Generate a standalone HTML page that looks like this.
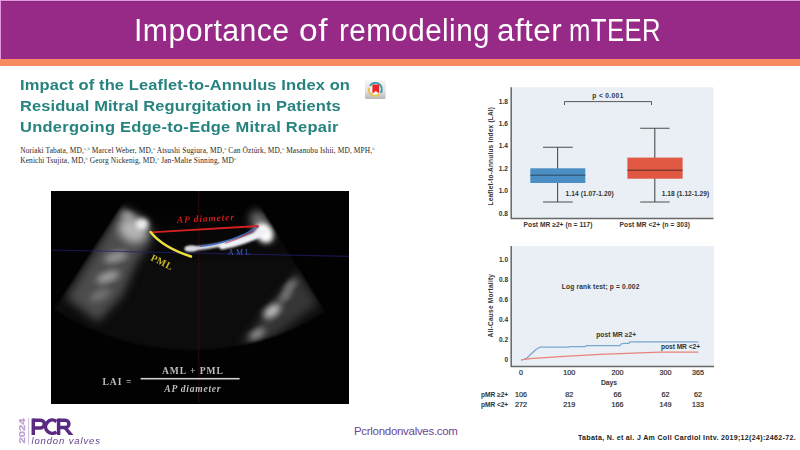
<!DOCTYPE html>
<html><head><meta charset="utf-8">
<style>
html,body{margin:0;padding:0;}
body{width:800px;height:450px;position:relative;overflow:hidden;background:#fff;font-family:"Liberation Sans",sans-serif;}
.abs{position:absolute;white-space:nowrap;}
#hdr{left:0;top:0;width:800px;height:59px;background:#972a87;}
#hdr2{left:0;top:58.8px;width:800px;height:7.7px;background:#f68a61;}
#title{left:0;top:13px;width:800px;height:34px;color:#fff;font-size:30.6px;line-height:34px;letter-spacing:0.46px;}
#title .w{position:absolute;top:0;display:block;transform-origin:0 0;}
.pt{left:20px;color:#27837f;font-weight:bold;font-size:15.4px;line-height:20px;letter-spacing:0.6px;transform:scaleX(1.07);transform-origin:0 0;}
.au{left:20.2px;color:#262626;font-family:"Liberation Serif",serif;font-size:7.4px;line-height:8px;letter-spacing:0.13px;}
.au sup{font-size:4.6px;color:#3a9aa0;vertical-align:2.8px;line-height:0;}
svg text{font-family:"Liberation Sans",sans-serif;}
svg .sf text{font-family:"Liberation Serif",serif;}
</style></head><body>
<div id="hdr" class="abs"></div>
<div id="hdr2" class="abs"></div>
<div class="abs" style="left:0;top:0;width:800px;height:1px;background:#e397df"></div>
<div class="abs" style="left:0;top:1px;width:800px;height:1.4px;background:#842a7c"></div>
<div class="abs" style="left:0;top:0;width:1px;height:59px;background:#e397df"></div>
<div id="title" class="abs"><span class="w" style="left:134.4px;transform:scaleX(0.987)">Importance</span><span class="w" style="left:298.9px;transform:scaleX(1.095)">of</span><span class="w" style="left:339px;transform:scaleX(0.968)">remodeling</span><span class="w" style="left:496.9px;transform:scaleX(1.025)">after</span><span class="w" style="left:569.1px;transform:scaleX(0.840)">mTEER</span></div>

<div class="abs pt" style="top:75.3px;letter-spacing:0.12px"><span id="p1">Impact of the Leaflet-to-Annulus Index on</span></div>
<div class="abs pt" style="top:96px;letter-spacing:0.095px"><span id="p2">Residual Mitral Regurgitation in Patients</span></div>
<div class="abs pt" style="top:117px;letter-spacing:0.265px"><span id="p3">Undergoing Edge-to-Edge Mitral Repair</span></div>

<div class="abs au" style="top:147.2px"><span id="a1">Noriaki Tabata, MD,<sup>a,b</sup> Marcel Weber, MD,<sup>a</sup> Atsushi Sugiura, MD,<sup>a</sup> Can Öztürk, MD,<sup>a</sup> Masanobu Ishii, MD, MPH,<sup>b</sup></span></div>
<div class="abs au" style="top:157.4px"><span id="a2">Kenichi Tsujita, MD,<sup>b</sup> Georg Nickenig, MD,<sup>a</sup> Jan-Malte Sinning, MD<sup>a</sup></span></div>

<!-- ECHO -->
<svg id="echo" class="abs" style="left:51px;top:191px" width="298.3" height="212.5" viewBox="51 191 298.3 212.5">
<defs>
<filter color-interpolation-filters="sRGB" id="b1" x="-30%" y="-30%" width="160%" height="160%"><feGaussianBlur stdDeviation="1"/></filter>
<filter color-interpolation-filters="sRGB" id="b2" x="-30%" y="-30%" width="160%" height="160%"><feGaussianBlur stdDeviation="2.2"/></filter>
<filter color-interpolation-filters="sRGB" id="b3" x="-30%" y="-30%" width="160%" height="160%"><feGaussianBlur stdDeviation="3.2"/></filter>
<filter color-interpolation-filters="sRGB" id="b4" x="-30%" y="-30%" width="160%" height="160%"><feGaussianBlur stdDeviation="4.5"/></filter>
<filter color-interpolation-filters="sRGB" id="b8" x="-30%" y="-30%" width="160%" height="160%"><feGaussianBlur stdDeviation="5"/></filter>
<filter color-interpolation-filters="sRGB" id="bt" x="-10%" y="-30%" width="120%" height="160%"><feGaussianBlur stdDeviation="0.5"/></filter>
<filter color-interpolation-filters="sRGB" id="bs" x="-5%" y="-5%" width="110%" height="110%"><feGaussianBlur stdDeviation="1.2"/></filter>
<linearGradient id="sg" gradientUnits="userSpaceOnUse" x1="0" y1="205" x2="0" y2="265"><stop offset="0" stop-color="#020202"/><stop offset="1" stop-color="#0c0c0c"/></linearGradient>
<clipPath id="sec"><path d="M192 97 L54.3 309.2 A253 253 0 0 0 325.3 312 Z"/></clipPath>
</defs>
<rect x="51" y="191" width="299" height="213" fill="#020202"/>
<path d="M192 97 L54.3 309.2 A253 253 0 0 0 325.3 312 Z" fill="url(#sg)" filter="url(#bs)"/>
<g filter="url(#bs)"><g clip-path="url(#sec)">
<!-- left wall -->
<path d="M122 206 L148 222 L152 240 L136 264 L122 296 L98 322 L66 298 Z" fill="#4c4c4c" filter="url(#b8)"/>
<ellipse cx="133" cy="230" rx="15" ry="12" fill="#b4b4b4" filter="url(#b4)" transform="rotate(30 133 230)"/>
<ellipse cx="142" cy="224" rx="6.5" ry="5.5" fill="#f0f0f0" filter="url(#b2)"/>
<ellipse cx="128" cy="216" rx="7" ry="4" fill="#aaa" filter="url(#b3)" transform="rotate(25 128 216)"/>
<ellipse cx="116" cy="257" rx="12" ry="5" fill="#999" filter="url(#b3)" transform="rotate(-15 116 257)"/>
<ellipse cx="108" cy="277" rx="12" ry="5" fill="#a0a0a0" filter="url(#b3)" transform="rotate(-20 108 277)"/>
<ellipse cx="100" cy="295" rx="11" ry="4.5" fill="#777" filter="url(#b3)" transform="rotate(-25 100 295)"/>
<!-- right lower -->
<path d="M298 272 L318 304 L272 338 L240 346 L266 312 Z" fill="#363636" filter="url(#b8)"/>
<ellipse cx="290" cy="286" rx="9" ry="3.5" fill="#8a8a8a" filter="url(#b3)" transform="rotate(-48 290 286)"/>
<ellipse cx="285" cy="296" rx="8" ry="3.5" fill="#8a8a8a" filter="url(#b3)" transform="rotate(-45 285 296)"/>
<ellipse cx="272" cy="311" rx="10" ry="5.5" fill="#c0c0c0" filter="url(#b3)" transform="rotate(-38 272 311)"/>
<ellipse cx="257" cy="334" rx="9" ry="4" fill="#999" filter="url(#b3)" transform="rotate(-30 257 334)"/>
<!-- right upper -->
<ellipse cx="262" cy="226" rx="9" ry="17" fill="#707070" filter="url(#b4)" transform="rotate(-32 262 226)"/>
<ellipse cx="264" cy="233" rx="8" ry="10.5" fill="#fff" filter="url(#b2)" transform="rotate(-35 264 233)"/>
</g></g>
<!-- blue horizontal -->
<path d="M51 250 L349 256.3" stroke="#20206e" stroke-width="1.2" opacity="0.7" filter="url(#bt)"/>
<!-- red dotted vertical -->
<path d="M198.8 191 V403" stroke="#6a1212" stroke-width="1" stroke-dasharray="1.5 0.8" opacity="0.7"/>
<!-- AML white -->
<path d="M187 249 Q 228 247 262 231" stroke="#e4e4ee" stroke-width="3.6" fill="none" stroke-linecap="round" filter="url(#b1)"/>
<path d="M222 246.5 Q 245 242 264 232" stroke="#f0f0f6" stroke-width="6" fill="none" stroke-linecap="round" filter="url(#b1)"/>
<ellipse cx="191" cy="248.5" rx="6.5" ry="3" fill="#dcdce6" filter="url(#b1)"/>
<path d="M225 243.5 Q 245 237 259 227" stroke="#d04a5a" stroke-width="0.8" fill="none" filter="url(#bt)"/>
<path d="M200 246.5 Q 232 243 258.5 226.5" stroke="#3d6fd0" stroke-width="1.1" fill="none" filter="url(#bt)"/>
<!-- red line -->
<path d="M151 232.4 L258.5 226" stroke="#d4201e" stroke-width="1.8" filter="url(#bt)"/>
<!-- yellow -->
<path d="M150.5 232 Q 163 247.5 191 256.5" stroke="#ece040" stroke-width="2.5" fill="none" stroke-linecap="round" filter="url(#bt)"/>
<g class="sf" filter="url(#bt)">
<text x="177" y="221.6" font-size="9.4" font-style="italic" font-weight="bold" fill="#c41c1c" textLength="57" transform="rotate(-3 205 220)">AP diameter</text>
<text x="150" y="260" font-size="10" font-weight="bold" fill="#c4b62c" textLength="23" transform="rotate(26 150 260)">PML</text>
<text x="228" y="255.5" font-size="8" fill="#4062c8" textLength="22">AML</text>
<g fill="#bdbdbd" font-size="9.6" font-weight="bold" filter="url(#bt)">
<text x="102.4" y="385" textLength="29">LAI =</text>
<text x="162" y="373.7" textLength="60.8">AML + PML</text>
<text x="164.3" y="391.6" textLength="56.2" font-style="italic">AP diameter</text>
</g>
</g>
<rect x="140.6" y="377.9" width="99" height="1.6" fill="#cfcfcf" filter="url(#bt)"/>
</svg>

<!-- CHARTS -->
<svg id="charts" class="abs" style="left:470px;top:80px" width="330" height="340" viewBox="470 80 330 340">
<g font-size="6.6" fill="#333" font-weight="bold">
<!-- box plot -->
<rect x="510.6" y="87.3" width="202.9" height="131.4" fill="#e9eff4"/>
<path d="M511.2 87.3V218.4H713.5" fill="none" stroke="#686868" stroke-width="1.5"/>
<g text-anchor="end">
<text x="507.9" y="103.6">1.8</text>
<text x="507.9" y="126">1.6</text>
<text x="507.9" y="148.4">1.4</text>
<text x="507.9" y="170.8">1.2</text>
<text x="507.9" y="193.2">1.0</text>
<text x="507.9" y="215.6">0.8</text>
</g>
<text transform="translate(493.4,205.5) rotate(-90)" textLength="98.5" font-size="6.5" id="yl1">Leaflet-to-Annulus Index (LAI)</text>
<!-- bracket -->
<path d="M564.5 105V101.6H651.5V105" fill="none" stroke="#4e4e4e" stroke-width="0.95"/>
<text x="592.3" y="97.7" textLength="31" id="pv">p &lt; 0.001</text>
<!-- blue -->
<path d="M557.6 147.2V202M543 147.2H572.8M543 202H572.8" stroke="#4e4e4e" stroke-width="1.1" fill="none"/>
<rect x="530.3" y="168.3" width="55" height="14.7" fill="#4a8ec4"/>
<path d="M530.3 175.2H585.3" stroke="#2a3f55" stroke-width="0.9"/>
<!-- red -->
<path d="M654.8 128.2V202M640.2 128.2H669.6M640.2 202H669.6" stroke="#4e4e4e" stroke-width="1.1" fill="none"/>
<rect x="627.4" y="157.6" width="55.2" height="21.1" fill="#e15842"/>
<path d="M627.4 170.2H682.6" stroke="#4a2a25" stroke-width="0.9"/>
<text x="565.6" y="196.2" textLength="48" id="t114">1.14 (1.07-1.20)</text>
<text x="661.8" y="196.2" textLength="47.4" id="t118">1.18 (1.12-1.29)</text>
<text x="523.6" y="227.3" textLength="68.8" id="xl1">Post MR ≥2+ (n = 117)</text>
<text x="619.5" y="227.3" textLength="70.5" id="xl2">Post MR &lt;2+ (n = 303)</text>

<!-- KM -->
<rect x="510.6" y="246" width="203.4" height="121" fill="#e9eff4"/>
<path d="M511.2 246V366.5H714" fill="none" stroke="#686868" stroke-width="1.5"/>
<g text-anchor="end">
<text x="508.1" y="262.3">1.0</text>
<text x="508.1" y="282.3">0.8</text>
<text x="508.1" y="302.3">0.6</text>
<text x="508.1" y="322.3">0.4</text>
<text x="508.1" y="342.3">0.2</text>
<text x="508.1" y="362.3">0</text>
</g>
<text transform="translate(493.4,337.5) rotate(-90)" textLength="63.5" font-size="6.5" id="yl2">All-Cause Mortality</text>
<text x="561.8" y="289.4" textLength="77.5" id="lr">Log rank test; p = 0.002</text>
<path d="M521 360 L524 359.3 L527 358 L531 354 L536 349.5 L540 347 L569 347 L570 346.6 L585 346.6 L586 345.7 L620 345.7 L621 344 L624 343.3 L629 343.3 L630 341.8 L698.4 341.8" fill="none" stroke="#7aa6cf" stroke-width="1.25"/>
<path d="M521 360 L530 358.7 L560 356.6 L600 354.4 L640 352.8 L660 352.2 L698.4 352.2" fill="none" stroke="#e8827b" stroke-width="1.2"/>
<text x="596.2" y="337.4" textLength="40" id="pm1">post MR ≥2+</text>
<text x="661" y="348.9" textLength="39" id="pm2">post MR &lt;2+</text>
<g text-anchor="middle" font-size="7.2" font-weight="normal" stroke="#2b2b2b" stroke-width="0.22">
<text x="521" y="374.9">0</text>
<text x="569.2" y="374.9">100</text>
<text x="617.5" y="374.9">200</text>
<text x="665.6" y="374.9">300</text>
<text x="698" y="374.9">365</text>
<text x="609" y="384.9" font-size="6.8" font-weight="bold" stroke="none">Days</text>
<text x="521" y="396.8">106</text>
<text x="569.2" y="396.8">82</text>
<text x="617.5" y="396.8">66</text>
<text x="665.6" y="396.8">62</text>
<text x="698" y="396.8">62</text>
<text x="521" y="407.4">272</text>
<text x="569.2" y="407.4">219</text>
<text x="617.5" y="407.4">166</text>
<text x="665.6" y="407.4">149</text>
<text x="698" y="407.4">133</text>
</g>
<text x="481" y="396.7" textLength="27.2" id="r1">pMR ≥2+</text>
<text x="481" y="407.3" textLength="27.2" id="r2">pMR &lt;2+</text>
</g>
</svg>


<!-- crossmark icon -->
<svg class="abs" style="left:360px;top:75px" width="32" height="30" viewBox="360 75 32 30">
<defs><linearGradient id="ig" x1="0" y1="0" x2="0" y2="1"><stop offset="0" stop-color="#f6f6f6"/><stop offset="0.6" stop-color="#dedede"/><stop offset="1" stop-color="#b8b8b8"/></linearGradient>
<filter color-interpolation-filters="sRGB" id="ib" x="-20%" y="-20%" width="140%" height="140%"><feGaussianBlur stdDeviation="0.6"/></filter></defs>
<g filter="url(#ib)">
<rect x="365" y="80.3" width="20.6" height="18.7" rx="1.5" fill="url(#ig)"/>
<circle cx="375.4" cy="89.3" r="6.4" fill="#f6f2ea"/>
<path d="M369.86 86.1 A6.4 6.4 0 1 1 380.64 92.97" fill="none" stroke="#38a0aa" stroke-width="1.9"/>
<path d="M379.5 94.2 A6.4 6.4 0 0 1 369.2 87.64" fill="none" stroke="#e6c24a" stroke-width="1.9"/>
<path d="M372.4 84.6 H379.2 V93.6 L375.8 91 L372.4 93.6 Z" fill="#e8262a"/>
</g>
</svg>

<!-- PCR logo -->
<svg class="abs" style="left:14px;top:412px" width="100" height="38" viewBox="14 412 100 38">
<defs><filter color-interpolation-filters="sRGB" id="lb" x="-5%" y="-10%" width="110%" height="120%"><feGaussianBlur stdDeviation="0.35"/></filter></defs>
<g filter="url(#lb)">
<text transform="translate(25.2,443.6) rotate(-90)" font-size="8.4" font-weight="bold" fill="#bda2d0" stroke="#bda2d0" stroke-width="0.25" textLength="25.2" lengthAdjust="spacingAndGlyphs" id="yr">2024</text>
<rect x="28.2" y="417.8" width="0.9" height="27" fill="#cdb4dd"/>
<g fill="none" stroke="#5a2a82" stroke-width="3.5">
<path d="M33.3 435 V418.5"/>
<path d="M33.3 420.2 H40.5 A3.9 3.9 0 0 1 40.5 428 H33.3"/>
<path d="M56.4 421.6 A6.6 6.6 0 1 0 56.4 431.8"/>
<path d="M58.6 435 V418.5"/>
<path d="M58.6 420.2 H65.2 A3.7 3.7 0 0 1 65.2 427.6 H58.6"/>
<path d="M62.4 427 L66.8 427 L73.4 435 L68.8 435 Z" fill="#5a2a82" stroke="none"/>
</g>
<g transform="translate(31.4,444.3) scale(1.12,1)"><text x="0" y="0" font-size="8.5" font-style="italic" fill="#5f3f8a" textLength="61.2" id="lv">london valves</text></g>
</g>
</svg>
<!-- FOOTER -->
<div class="abs" id="web" style="left:354px;top:424px;color:#6e4690;font-size:11.5px;line-height:14px;letter-spacing:-0.3px;"><span id="ww">Pcrlondonvalves.com</span></div>
<div class="abs" id="cite" style="left:578px;top:434px;color:#222;font-size:7.1px;font-weight:bold;line-height:9px;letter-spacing:0.3px;"><span id="cc">Tabata, N. et al. J Am Coll Cardiol Intv. 2019;12(24):2462-72.</span></div>
</body></html>
